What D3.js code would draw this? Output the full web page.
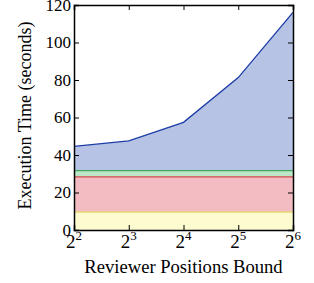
<!DOCTYPE html>
<html>
<head>
<meta charset="utf-8">
<script src="https://cdn.jsdelivr.net/npm/d3@7"></script>
<style>
  body { margin: 0; background: #fff; }
  text { font-family: "Liberation Serif", "DejaVu Serif", serif; fill: #000; }
</style>
</head>
<body>
<div id="chart"></div>
<script>
// Chart values
let exponents = [2, 3, 4, 5, 6];
let seriesNames = ["yellow", "red", "green", "blue"];
let yellowVals = [9.5, 9.5, 9.5, 9.5, 9.5];
let redVals = [18.8, 18.8, 18.8, 18.8, 18.8];
let greenVals = [3.4, 3.4, 3.4, 3.4, 3.4];
let blueVals = [12.9, 15.8, 25.7, 49.6, 84.4];
let yTicks = [0, 20, 40, 60, 80, 100, 120];

let colors = {
    yellow: { fill: "#fdfbd0", line: "#e3de63" },
    red: { fill: "#f3bcc2", line: "#d4474f" },
    green: { fill: "#bce6c6", line: "#3ea75a" },
    blue: { fill: "#b7c3e4", line: "#1c3ca6" }
};

let margin = { top: 5, right: 21, bottom: 53, left: 74 };
let svgWidth = 314, svgHeight = 283;
let chartWidth = svgWidth - margin.left - margin.right;
let chartHeight = svgHeight - margin.top - margin.bottom;

let svg = d3.select("#chart")
    .append("svg")
    .attr("width", svgWidth)
    .attr("height", svgHeight);

let chartGrp = svg.append("g")
    .attr("transform", `translate(${margin.left}, ${margin.top})`);

// build stack table
let table = exponents.map((e, i) => ({
    x: Math.pow(2, e),
    yellow: yellowVals[i],
    red: redVals[i],
    green: greenVals[i],
    blue: blueVals[i]
}));

let stacked = d3.stack().keys(seriesNames)(table);

let xScale = d3.scaleLog().base(2)
    .domain([4, 64])
    .range([0, chartWidth]);
let yScale = d3.scaleLinear()
    .domain([0, 120])
    .range([chartHeight, 0]);

let area = d3.area()
    .x(d => xScale(d.data.x))
    .y0(d => yScale(d[0]))
    .y1(d => yScale(d[1]));
let topLine = d3.line()
    .x(d => xScale(d.data.x))
    .y(d => yScale(d[1]));

chartGrp.selectAll(".layer")
    .data(stacked)
    .enter()
    .append("path")
    .attr("d", area)
    .attr("fill", d => colors[d.key].fill);

chartGrp.selectAll(".edge")
    .data(stacked)
    .enter()
    .append("path")
    .attr("d", topLine)
    .attr("fill", "none")
    .attr("stroke", d => colors[d.key].line)
    .attr("stroke-width", 1.3);

// axes with inward ticks
let tickVals = exponents.map(e => Math.pow(2, e));
let xAxis = d3.axisBottom(xScale).tickValues(tickVals).tickSize(-5).tickFormat("");
let xAxisTop = d3.axisTop(xScale).tickValues(tickVals).tickSize(-5).tickFormat("");
let yAxis = d3.axisLeft(yScale).tickValues(yTicks).tickSize(-5).tickPadding(3);
let yAxisRight = d3.axisRight(yScale).tickValues(yTicks).tickSize(-5).tickFormat("");

chartGrp.append("g").attr("transform", `translate(0, ${chartHeight})`).call(xAxis);
chartGrp.append("g").call(xAxisTop);
let gy = chartGrp.append("g").call(yAxis);
chartGrp.append("g").attr("transform", `translate(${chartWidth}, 0)`).call(yAxisRight);

chartGrp.selectAll(".domain").attr("stroke", "#000").attr("stroke-width", 1.5);
chartGrp.selectAll(".tick line").attr("stroke", "#000").attr("stroke-width", 1);
gy.selectAll("text").style("font-size", "17px").style("font-family", "Liberation Serif");

// x tick labels as powers of two
let xLab = chartGrp.append("g").selectAll("text")
    .data(exponents)
    .enter()
    .append("text")
    .attr("x", d => xScale(Math.pow(2, d)))
    .attr("y", chartHeight + 18)
    .attr("text-anchor", "middle")
    .style("font-size", "19px");
xLab.append("tspan").text("2");
xLab.append("tspan").attr("dy", -8).style("font-size", "13px").text(d => d);

svg.append("text")
    .attr("x", margin.left + chartWidth / 2)
    .attr("y", 273)
    .attr("text-anchor", "middle")
    .style("font-size", "18.6px")
    .text("Reviewer Positions Bound");

svg.append("text")
    .attr("transform", `translate(31, ${margin.top + chartHeight / 2 - 2}) rotate(-90)`)
    .attr("text-anchor", "middle")
    .style("font-size", "18px")
    .text("Execution Time (seconds)");
</script>
</body>
</html>
